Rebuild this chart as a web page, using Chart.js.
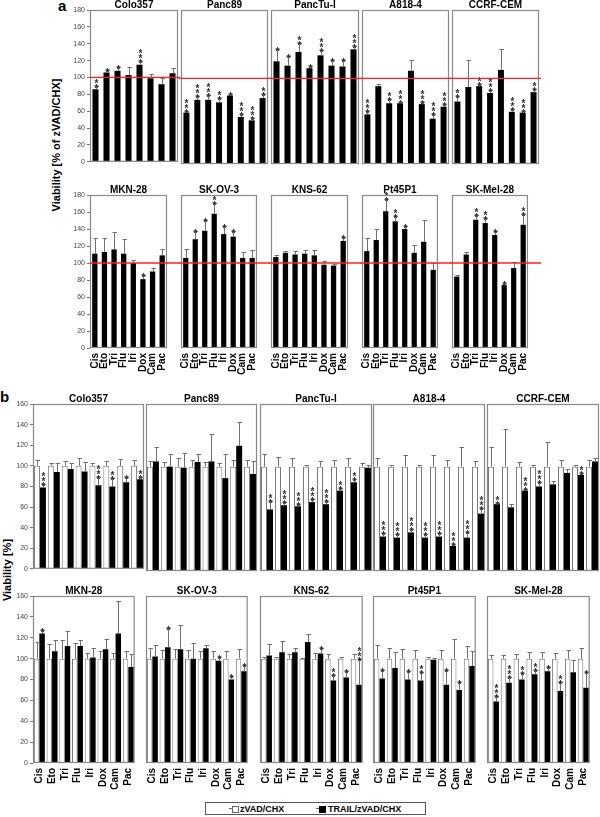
<!DOCTYPE html>
<html>
<head>
<meta charset="utf-8">
<script src="https://cdn.jsdelivr.net/npm/chart.js@4.4.0/dist/chart.umd.min.js"></script>
<style>
body{margin:0;background:#fff;font-family:"Liberation Sans",Arial,sans-serif;}
#fig{position:relative;width:600px;height:817px;overflow:hidden;background:#fff;}
#fig canvas{position:absolute;}
.lab{position:absolute;font-weight:bold;color:#000;line-height:1;}
.ytitle{position:absolute;font-weight:bold;font-size:11px;white-space:nowrap;transform:translate(-50%,-50%) rotate(-90deg);color:#000;line-height:1;}
#leg{position:absolute;left:205px;top:802px;width:221px;height:13px;border:1px solid #555;font:bold 9px "Liberation Sans",Arial,sans-serif;box-sizing:border-box;}
#leg span{position:absolute;top:1px;line-height:11px;}
#leg i{position:absolute;top:3px;width:5px;height:5px;border:1px solid #666;}
#leg b{position:absolute;top:5px;width:3px;height:1px;background:#666;}
</style>
</head>
<body>
<div id="fig">
  <div class="lab" style="left:58px;top:-2px;font-size:15px">a</div>
  <div class="lab" style="left:0px;top:389px;font-size:15px">b</div>
  <div class="ytitle" style="left:56px;top:145px">Viability [% of zVAD/CHX]</div>
  <div class="ytitle" style="left:7px;top:570px">Viability [%]</div>
  <div id="leg">
    <b style="left:23px"></b><i style="left:26px;background:#fff"></i><span style="left:34px">zVAD/CHX</span>
    <b style="left:110px"></b><i style="left:113px;background:#000;border-color:#000"></i><span style="left:122px">TRAIL/zVAD/CHX</span>
  </div>
</div>
<script>
// drugs and cell lines
const drugs = ["Cis", "Eto", "Tri", "Flu", "Iri", "Dox", "Cam", "Pac"];
const topCells = ["Colo357", "Panc89", "PancTu-I", "A818-4", "CCRF-CEM"];
const botCells = ["MKN-28", "SK-OV-3", "KNS-62", "Pt45P1", "SK-Mel-28"];

// panel a, viability [% of zVAD/CHX]
const aTopVals = [
  [86, 106, 108, 103, 115, 99, 92, 105],
  [60, 75, 75, 72, 80, 55, 51, 77],
  [120, 115, 131, 112, 127, 115, 114, 134],
  [58, 91, 71, 71, 109, 70, 53, 67],
  [73, 90, 91, 83, 110, 61, 60, 84]
];
const aTopErr = [
  [4, 3, 4, 9, 4, 5, 7, 6],
  [2, 4, 6, 5, 2, 3, 3, 5],
  [15, 11, 10, 3, 6, 6, 8, 4],
  [4, 2, 5, 2, 12, 3, 6, 3],
  [6, 32, 3, 3, 25, 3, 2, 4]
];
const aTopSig = [
  ["**", "*", "*", "", "***", "", "", ""],
  ["***", "***", "***", "**", "*", "***", "***", "**"],
  ["*", "*", "**", "*", "***", "*", "*", "***"],
  ["***", "", "**", "***", "", "***", "***", "***"],
  ["**", "", "**", "***", "", "***", "***", "**"]
];
const aBotVals = [
  [111, 113, 116, 111, 100, 81, 90, 109],
  [106, 128, 138, 158, 134, 131, 106, 106],
  [107, 112, 110, 111, 109, 98, 97, 126],
  [114, 127, 161, 149, 140, 112, 125, 92],
  [84, 110, 151, 147, 133, 74, 94, 145]
];
const aBotErr = [
  [18, 16, 21, 17, 4, 5, 4, 8],
  [10, 10, 12, 13, 9, 7, 7, 9],
  [2, 2, 4, 4, 6, 4, 2, 5],
  [15, 13, 14, 6, 3, 9, 25, 8],
  [2, 3, 5, 6, 5, 3, 7, 13]
];
const aBotSig = [
  ["", "", "", "", "", "*", "", ""],
  ["", "*", "*", "**", "*", "*", "", ""],
  ["", "", "", "", "", "", "", "*"],
  ["", "", "**", "**", "*", "", "", ""],
  ["", "", "**", "**", "*", "*", "", "**"]
];

// panel b, viability [%]
const bControl = [100, 100, 100, 100, 100, 100, 100, 100];
const bTopCtrlErr = [
  [6, 3, 5, 8, 3, 5, 7, 6],
  [5, 4, 8, 6, 4, 3, 6, 6],
  [12, 9, 8, 2, 5, 6, 8, 3],
  [8, 2, 11, 2, 11, 6, 19, 5],
  [19, 36, 4, 2, 24, 6, 2, 6]
];
const bTopVals = [
  [79, 94, 97, 94.5, 81, 80, 84, 87],
  [105, 100, 99, 104.5, 105, 89, 120, 93],
  [59, 63, 62, 66, 64, 77, 85, 99],
  [33, 32, 37, 32, 33, 24, 32, 55],
  [64, 61, 77, 81, 83, 94, 92, 105]
];
const bTopErr = [
  [3, 9, 6, 9, 8, 8, 5, 2],
  [14, 12, 14, 8, 26, 23, 23, 12],
  [8, 3, 2, 3, 3, 3, 3, 3],
  [3, 3, 3, 3, 3, 2, 5, 5],
  [1, 3, 2, 4, 3, 4, 2, 3]
];
const bTopSig = [
  ["***", "", "", "", "***", "**", "*", "**"],
  ["", "", "", "", "", "", "", ""],
  ["**", "***", "***", "***", "***", "**", "**", ""],
  ["***", "***", "***", "***", "***", "***", "***", "***"],
  ["**", "", "***", "***", "", "", "**", ""]
];
const bBotCtrlErr = [
  [16, 14, 18, 15, 5, 7, 5, 7],
  [10, 8, 9, 8, 7, 7, 7, 9],
  [2, 2, 4, 1, 5, 4, 2, 4],
  [13, 10, 9, 8, 2, 8, 19, 12],
  [3, 3, 4, 6, 6, 5, 8, 10]
];
const bBotVals = [
  [124, 107, 112, 112, 101, 109, 124, 92],
  [102, 111, 109, 100, 110, 98, 80, 88],
  [103, 106, 106, 116, 105, 79, 82, 75],
  [81, 91, 80, 79, 99, 75, 70, 93],
  [59, 77, 80, 85, 88, 69, 87, 72]
];
const bBotErr = [
  [3, 11, 14, 6, 9, 10, 31, 12],
  [11, 18, 23, 15, 3, 4, 3, 6],
  [11, 11, 4, 8, 5, 5, 6, 25],
  [8, 15, 8, 8, 2, 14, 8, 14],
  [5, 5, 6, 4, 4, 9, 12, 15]
];
const bBotSig = [
  ["*", "", "", "", "", "", "", ""],
  ["", "*", "", "", "", "*", "*", "*"],
  ["", "", "", "", "*", "**", "*", "***"],
  ["*", "", "*", "**", "", "*", "*", ""],
  ["***", "***", "**", "**", "*", "**", "", "*"]
];

// where the boxes sit on the page
const aBoxX = [[90, 178], [181, 268], [271, 359], [362, 449], [452, 539]];
const bBoxX = [[33, 144], [146, 257], [260, 372], [373, 485], [487, 599]];
const FONT = '"Liberation Sans", Arial, sans-serif';
const fig = document.getElementById("fig");

// error bars, stars, grey box and the red 100% line
function makeDeco(red, first) {
  return {
    id: "deco",
    afterDatasetsDraw(chart) {
      const ctx = chart.ctx, ys = chart.scales.y;
      ctx.save();
      chart.data.datasets.forEach((ds, i) => {
        const meta = chart.getDatasetMeta(i);
        meta.data.forEach((bar, j) => {
          const v = ds.data[j], e = ds.errs[j];
          const yt = Math.round(ys.getPixelForValue(v + e)) + 0.5;
          const x = Math.round(bar.x) + 0.5;
          ctx.strokeStyle = "#707070";
          ctx.lineWidth = 1;
          ctx.beginPath();
          ctx.moveTo(x, bar.y);
          ctx.lineTo(x, yt);
          ctx.moveTo(x - 2, yt);
          ctx.lineTo(x + 2.5, yt);
          ctx.stroke();
          const s = ds.sig ? ds.sig[j] : "";
          ctx.fillStyle = "#333";
          ctx.font = "bold 10px " + FONT;
          ctx.textAlign = "center";
          ctx.textBaseline = "alphabetic";
          for (let k = 0; k < s.length; k++) {
            ctx.fillText("*", x, yt + 5 - 5 * k);
          }
        });
      });
      ctx.restore();
    },
    afterDraw(chart) {
      const ctx = chart.ctx, a = chart.chartArea, ys = chart.scales.y;
      ctx.save();
      ctx.strokeStyle = "#888";
      ctx.lineWidth = 1.2;
      ctx.strokeRect(a.left + 0.5, a.top + 0.5, a.right - a.left - 1, a.bottom - a.top - 1);
      if (red) {
        const yy = ys.getPixelForValue(100);
        ctx.strokeStyle = "#ff2020";
        ctx.lineWidth = 1.3;
        ctx.beginPath();
        ctx.moveTo(first ? a.left : 0, yy);
        ctx.lineTo(chart.width, yy);
        ctx.stroke();
      }
      ctx.restore();
    }
  };
}

function makePanel(x0, x1, y0, y1, first, showX, title, ymax, datasets, red) {
  const padL = first ? 30 : 2, padR = 2;
  const c = document.createElement("canvas");
  const w = x1 - x0 + padL + padR;
  const h = y1 - y0 + 10 + (showX ? 42 : 4);
  c.width = w;
  c.height = h;
  c.style.left = (x0 - padL) + "px";
  c.style.top = (y0 - 10) + "px";
  fig.appendChild(c);
  new Chart(c, {
    type: "bar",
    data: { labels: drugs, datasets: datasets },
    options: {
      responsive: false,
      animation: false,
      devicePixelRatio: 1,
      layout: { padding: { left: first ? 0 : padL, right: padR, top: 0, bottom: showX ? 0 : 4 } },
      plugins: {
        legend: { display: false },
        tooltip: { enabled: false },
        title: {
          display: true, text: title, fullSize: false, color: "#000", padding: 0,
          font: { family: FONT, size: 10, weight: "bold", lineHeight: 1 }
        }
      },
      scales: {
        x: {
          display: showX,
          offset: true,
          grid: { display: false, drawTicks: false },
          border: { display: false },
          ticks: {
            minRotation: 90, maxRotation: 90, autoSkip: false, padding: 5, color: "#000",
            font: { family: FONT, size: 10, weight: "bold" }
          },
          afterFit: (s) => { if (showX) s.height = 42; }
        },
        y: {
          display: first,
          min: 0,
          max: ymax,
          grid: { drawOnChartArea: false, tickLength: 3, color: "#777" },
          border: { display: false },
          ticks: { stepSize: 20, color: "#444", padding: 2, font: { family: FONT, size: 7 } },
          afterFit: (s) => { if (first) s.width = padL; }
        }
      }
    },
    plugins: [makeDeco(red, first)]
  });
}

// panel a
[[topCells, aTopVals, aTopErr, aTopSig, 10, 164, false],
 [botCells, aBotVals, aBotErr, aBotSig, 195, 348, true]].forEach((row) => {
  const [cells, vals, errs, sigs, y0, y1, showX] = row;
  cells.forEach((cell, i) => {
    makePanel(aBoxX[i][0], aBoxX[i][1], y0, y1, i === 0, showX, cell, 180, [{
      data: vals[i], errs: errs[i], sig: sigs[i],
      backgroundColor: "#000", borderWidth: 0,
      barPercentage: 0.55, categoryPercentage: 1
    }], true);
  });
});

// panel b
[[topCells, bTopCtrlErr, bTopVals, bTopErr, bTopSig, 404, 571, false],
 [botCells, bBotCtrlErr, bBotVals, bBotErr, bBotSig, 596, 763, true]].forEach((row) => {
  const [cells, cErr, vals, errs, sigs, y0, y1, showX] = row;
  cells.forEach((cell, i) => {
    makePanel(bBoxX[i][0], bBoxX[i][1], y0, y1, i === 0, showX, cell, 160, [
      {
        label: "zVAD/CHX", data: bControl, errs: cErr[i],
        backgroundColor: "#fff", borderColor: "#777", borderWidth: 1,
        barPercentage: 1, categoryPercentage: 0.86
      },
      {
        label: "TRAIL/zVAD/CHX", data: vals[i], errs: errs[i], sig: sigs[i],
        backgroundColor: "#000", borderWidth: 0,
        barPercentage: 1, categoryPercentage: 0.86
      }
    ], false);
  });
});
</script>
</body>
</html>
